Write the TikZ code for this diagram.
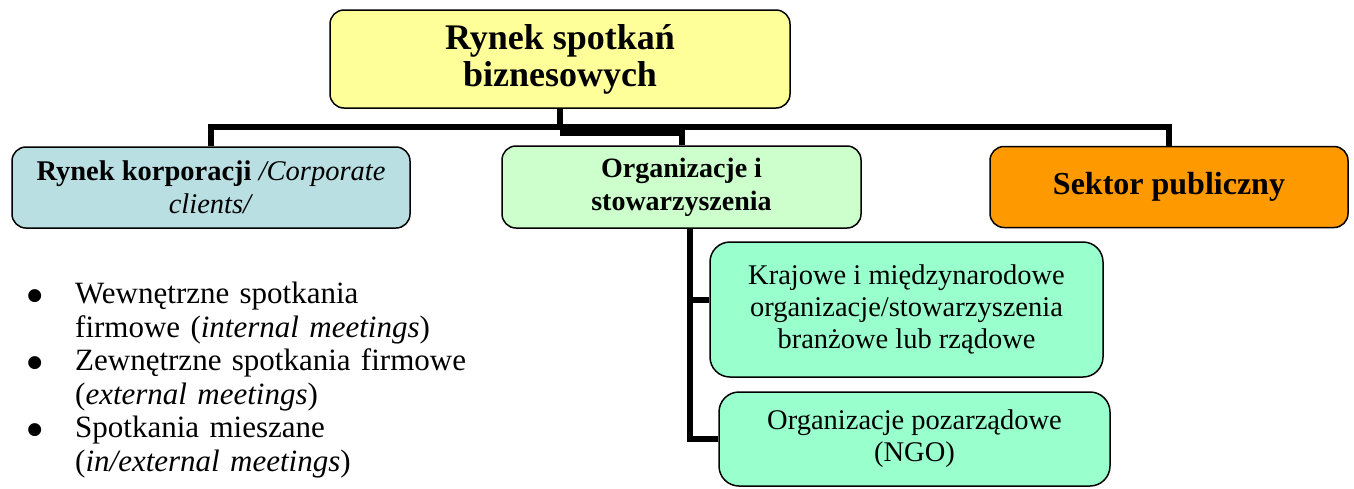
\documentclass[tikz,border=0pt]{standalone}
\usepackage{fontspec}
\setmainfont{Liberation Serif}
\newfontfamily\dejavu{DejaVu Sans}
\definecolor{rynekyellow}{HTML}{FFFF99}
\definecolor{korpblue}{HTML}{B9DFE3}
\definecolor{orggreen}{HTML}{CCFFCC}
\definecolor{sektororange}{HTML}{FF9900}
\definecolor{subgreen}{HTML}{99FFCC}
\newcommand\bul{\leavevmode\llap{\raisebox{3pt}{\dejavu\fontsize{17}{17}\selectfont ●}\hspace{33pt}}}
\begin{document}
\begin{tikzpicture}[x=1pt,y=-1pt,line join=round,
	box/.style={draw,line width=1.5pt,rounded corners=14pt,align=center,inner sep=0pt},
	subbox/.style={box,fill=subgreen,rounded corners=20pt,font=\fontsize{28.5}{32}\selectfont},
	conn/.style={line width=6pt,line join=miter}]
				\useasboundingbox (0,0) rectangle (1354,488);
				% gorny poziom
				\node[box,fill=rynekyellow,minimum width=460pt,minimum height=98pt,font=\fontsize{36}{37}\selectfont\bfseries] (rynek) at (560,59) {Rynek spotkań\\biznesowych};
				\node[box,fill=korpblue,minimum width=398pt,minimum height=81pt,font=\fontsize{28.5}{33}\selectfont] (korp) at (211,187.5) {\textbf{Rynek korporacji} \textit{/Corporate}\\\textit{clients/}};
				\node[box,fill=orggreen,minimum width=359pt,minimum height=82pt,font=\fontsize{28}{33}\selectfont\bfseries] (org) at (681.5,187) {Organizacje i\\stowarzyszenia};
				\node[box,fill=sektororange,minimum width=358pt,minimum height=81pt,font=\fontsize{32}{36}\selectfont\bfseries] (sektor) at (1169,187) {Sektor publiczny};
				% organizacje
				\node[subbox,minimum width=393pt,minimum height=135pt] (krajowe) at (906.5,309.5) {Krajowe i międzynarodowe\\organizacje/stowarzyszenia\\branżowe lub rządowe};
				\node[subbox,minimum width=391pt,minimum height=94pt] (ngo) at (914.5,439) {Organizacje pozarządowe\\(NGO)};
				% polaczenia
				\path
				(560,127) coordinate (szyna)
				(690,228) coordinate (pien)
				([yshift=9.5pt]krajowe.west) coordinate (galaz)
				;
				\draw[conn] (rynek.south) -- (szyna);
				\draw[conn] (korp.north) |- (szyna) -| (sektor.north);
				\draw[conn] ([yshift=-6pt]szyna) -| (org.north);
				\draw[conn] (pien) |- (ngo.west);
				\draw[conn] (pien |- galaz) -- (galaz);
				% lista
				\node[anchor=north west,inner sep=0pt,text width=430pt,align=left,font=\fontsize{31}{33.5}\selectfont] (lista) at (75,282) {\bul Wewnętrzne spotkania\\firmowe (\textit{internal meetings})\\\bul Zewnętrzne spotkania firmowe\\(\textit{external meetings})\\\bul Spotkania mieszane\\(\textit{in/external meetings})};
			\end{tikzpicture}
\end{document}
